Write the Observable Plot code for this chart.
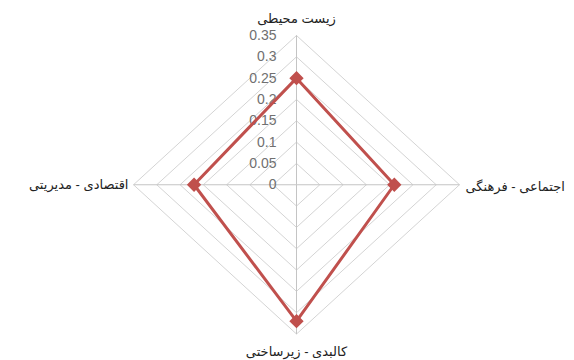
<!DOCTYPE html>
<html>
<head>
<meta charset="utf-8">
<script src="https://cdn.jsdelivr.net/npm/d3@7"></script>
<script src="https://cdn.jsdelivr.net/npm/@observablehq/plot@0.6"></script>
<style>
  html, body { margin: 0; padding: 0; background: #fff; }
  #chart svg { display: block; font-family: "Liberation Sans", "DejaVu Sans", sans-serif; }
</style>
</head>
<body>
<div id="chart"></div>
<script>
// Radar chart: four dimensions, one series
const categories = ["زیست محیطی", "اجتماعی - فرهنگی", "کالبدی - زیرساختی", "اقتصادی - مدیریتی"];
const values = [0.25, 0.21, 0.32, 0.22];
const ticks = [0, 0.05, 0.1, 0.15, 0.2, 0.25, 0.3, 0.35];
const tickLabels = ["0", "0.05", "0.1", "0.15", "0.2", "0.25", "0.3", "0.35"];
const maxValue = 0.35;

// polar -> cartesian, first category at top, going clockwise
const angle = i => (i * 2 * Math.PI) / categories.length;
const px = (i, v) => v * Math.sin(angle(i));
const py = (i, v) => v * Math.cos(angle(i));

// grid rings (diamonds) for each tick above zero
const rings = [];
ticks.filter(t => t > 0).forEach(t => {
  for (let k = 0; k <= categories.length; k++) {
    const i = k % categories.length;
    rings.push({ring: t, x: px(i, t), y: py(i, t)});
  }
});

// spokes from the centre to the outer ring
const spokes = categories.map((c, i) => ({x1: 0, y1: 0, x2: px(i, maxValue), y2: py(i, maxValue)}));

// series polygon, closed back to the first point
const points = categories.map((c, i) => ({category: c, value: values[i], x: px(i, values[i]), y: py(i, values[i])}));
const outline = [...points, points[0]];

// category labels placed just outside the outer ring
const labelOffsets = [
  {dx: 0, dy: -17, anchor: "middle"},
  {dx: 6, dy: 2, anchor: "start"},
  {dx: 0, dy: 18, anchor: "middle"},
  {dx: -5, dy: 0, anchor: "end"}
];
const labels = categories.map((c, i) => ({text: c, x: px(i, maxValue), y: py(i, maxValue), ...labelOffsets[i]}));

const chart = Plot.plot({
  width: 574,
  height: 360,
  margin: 0,
  x: {domain: [-maxValue, maxValue], range: [133, 459], axis: null},
  y: {domain: [-maxValue, maxValue], range: [333.5, 35], axis: null},
  marks: [
    Plot.line(rings, {x: "x", y: "y", z: "ring", stroke: "#d4d4d4", strokeWidth: 1}),
    Plot.link(spokes, {x1: "x1", y1: "y1", x2: "x2", y2: "y2", stroke: "#c4c4c4", strokeWidth: 1}),
    Plot.text(ticks, {x: 0, y: d => d, text: (d, i) => tickLabels[i], dx: -20, textAnchor: "end", fill: "#707070", fontSize: 14}),
    ...labels.map(l => Plot.text([l], {x: "x", y: "y", text: "text", dx: l.dx, dy: l.dy, textAnchor: l.anchor, fill: "#222", fontSize: 13})),
    Plot.line(outline, {x: "x", y: "y", stroke: "#c0504d", strokeWidth: 3, strokeLinejoin: "round"}),
    Plot.dot(points, {x: "x", y: "y", symbol: "diamond2", r: 5.5, fill: "#c0504d", stroke: "#c0504d"})
  ]
});
document.getElementById("chart").appendChild(chart);
</script>
</body>
</html>
